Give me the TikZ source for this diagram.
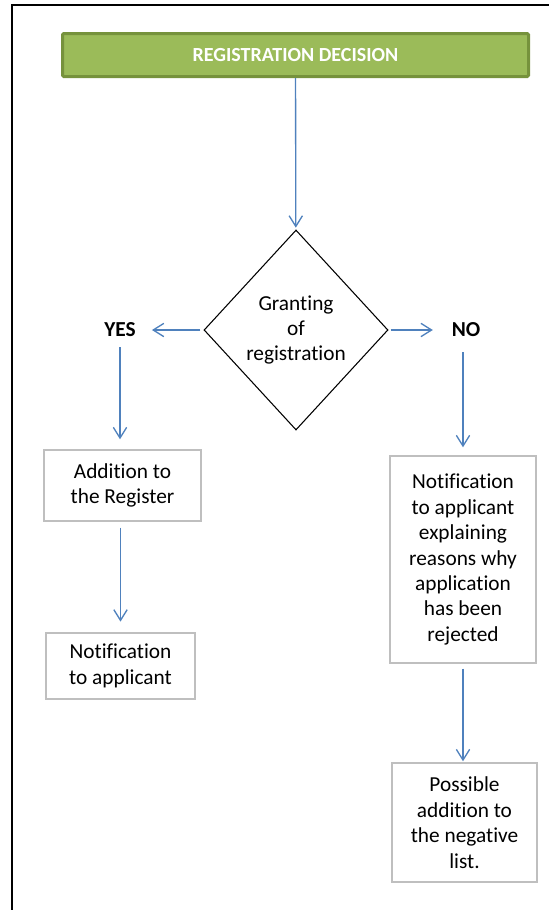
\documentclass[tikz,border=0pt]{standalone}
\usepackage{fontspec}
\setmainfont{Carlito}[Ligatures=NoCommon]
\usetikzlibrary{arrows.meta,shapes.geometric,calc}
\definecolor{regGreen}{HTML}{9BBB59}
\definecolor{regGreenDk}{HTML}{76923C}
\definecolor{flowBlue}{HTML}{4F81BD}
\definecolor{boxGray}{HTML}{BFBFBF}
\tikzset{
  every picture/.append style={font=\fontsize{16}{19.1}\selectfont},
  hdbox/.style   = {rectangle, rounded corners=1pt, fill=regGreen,
                    draw=regGreenDk, line width=2.25pt,
                    minimum width=349.5pt, minimum height=32.25pt,
                    font=\fontsize{15}{18}\selectfont\bfseries, text=white},
  decide/.style  = {diamond, draw=black, line width=0.8pt, inner sep=0pt,
                    minimum width=138pt, minimum height=150pt, align=center},
  stepbox/.style = {rectangle, draw=boxGray, line width=1.1pt,
                    inner sep=0pt, align=center},
  ans/.style     = {font=\fontsize{16}{19.1}\selectfont\bfseries, inner sep=0pt},
  flow/.style    = {draw=flowBlue, line width=1pt,
                    -{Straight Barb[length=8pt,width=10pt]}},
}

\begin{document}
\begin{tikzpicture}[x=0.75pt, y=-0.75pt]
    \useasboundingbox (0,0) rectangle (549,910);
    % page frame, top and left only
    \draw[line width=1.5pt] (12,910) -- (12,5) -- (549,5);

    \node[hdbox]  (head)  at (295.5,55) {REGISTRATION DECISION};
    \node[decide] (grant) at (296,330)  {Granting\\of\\registration};
    \node[ans]    (yes)   at (120,330)  {YES};
    \node[ans]    (no)    at (466,330)  {NO};

    \node[stepbox, minimum width=117.75pt, minimum height=53.25pt] (add)
      at (122.5,485.5) {Addition to\\the Register};
    \node[stepbox, minimum width=111.75pt, minimum height=49.5pt] (notif)
      at (120.5,666) {Notification\\to applicant};
    \node[stepbox, minimum width=109.5pt, minimum height=155.25pt] (reject)
      at (463,559.5) {Notification\\to applicant\\explaining\\reasons why\\application\\has been\\rejected};
    \node[stepbox, minimum width=108.75pt, minimum height=89.25pt] (neglist)
      at (464.5,822.5) {Possible\\addition to\\the negative\\list.};

    \draw[flow, shorten >=1.5pt] (head) -- (grant);
    \draw[flow, shorten <=2.25pt, shorten >=12pt] (grant.west) -- (yes.east);
    \draw[flow, shorten <=1.5pt, shorten >=14pt] (grant.east) -- (no.west);
    \draw[flow, shorten <=7.5pt, shorten >=7.5pt] (yes.south) -- (yes.south |- add.north);
    \draw[flow, shorten <=4.5pt, shorten >=8pt] (notif.north |- add.south) -- (notif.north);
    \draw[flow, shorten <=11pt, shorten >=6pt] (reject.north |- no.south) -- (reject.north);
    \draw[flow, shorten <=3.75pt, shorten >=0.75pt] (reject.south) -- (reject.south |- neglist.north);
  \end{tikzpicture}
\end{document}
